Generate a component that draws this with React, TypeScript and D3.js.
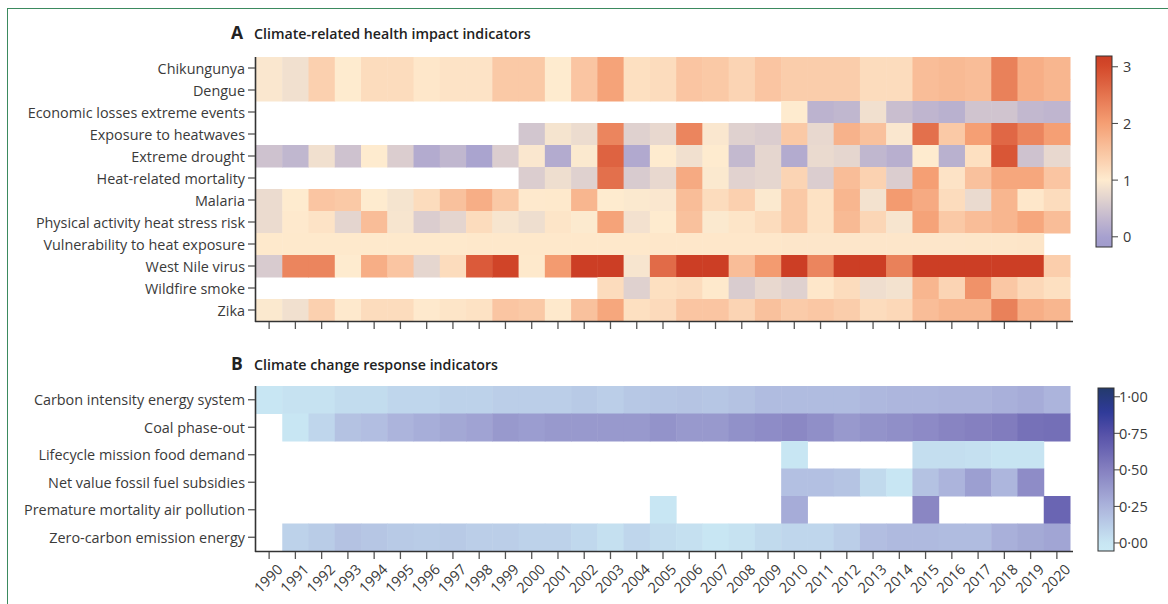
import * as d3 from "d3";

const years = d3.range(1990, 2021).map(String);

const impactRows = [
  "Chikungunya",
  "Dengue",
  "Economic losses extreme events",
  "Exposure to heatwaves",
  "Extreme drought",
  "Heat-related mortality",
  "Malaria",
  "Physical activity heat stress risk",
  "Vulnerability to heat exposure",
  "West Nile virus",
  "Wildfire smoke",
  "Zika",
];

const N = null;

// one array per indicator, 1990..2020
const chikungunya = [0.95, 0.85, 1.35, 1.0, 1.2, 1.2, 1.05, 1.1, 1.1, 1.45, 1.45, 1.0, 1.5, 1.95, 1.15, 1.2, 1.5, 1.45, 1.3, 1.5, 1.4, 1.4, 1.4, 1.2, 1.2, 1.6, 1.65, 1.6, 2.35, 1.8, 1.7];
const dengue = [0.95, 0.85, 1.35, 1.0, 1.2, 1.2, 1.05, 1.1, 1.1, 1.45, 1.45, 1.0, 1.5, 1.95, 1.15, 1.2, 1.5, 1.45, 1.3, 1.5, 1.4, 1.4, 1.4, 1.2, 1.2, 1.6, 1.65, 1.6, 2.35, 1.8, 1.7];
const economicLosses = [N, N, N, N, N, N, N, N, N, N, N, N, N, N, N, N, N, N, N, N, 1.0, 0.25, 0.3, 0.85, 0.4, 0.28, 0.22, 0.48, 0.48, 0.32, 0.28];
const heatwaves = [N, N, N, N, N, N, N, N, N, N, 0.5, 0.9, 0.8, 2.3, 0.65, 0.75, 2.3, 0.95, 0.65, 0.6, 1.45, 0.75, 1.75, 1.55, 0.95, 2.55, 1.45, 2.0, 2.65, 2.3, 2.0];
const drought = [0.45, 0.3, 0.85, 0.45, 1.0, 0.6, 0.15, 0.3, 0.05, 0.6, 0.95, 0.15, 0.97, 2.7, 0.12, 1.0, 0.85, 1.0, 0.33, 0.72, 0.15, 0.77, 0.72, 0.3, 0.2, 1.0, 0.22, 1.15, 2.85, 0.45, 0.75];
const heatMortality = [N, N, N, N, N, N, N, N, N, N, 0.6, 0.82, 0.65, 2.55, 0.57, 0.75, 1.85, 0.97, 0.67, 0.72, 1.3, 0.6, 1.6, 1.33, 0.6, 2.0, 1.1, 1.55, 1.9, 1.9, 1.5];
const malaria = [0.78, 1.0, 1.5, 1.45, 1.0, 0.9, 1.2, 1.55, 1.8, 1.45, 1.02, 1.03, 1.7, 1.0, 0.97, 0.95, 1.6, 1.2, 1.35, 0.97, 1.45, 1.12, 1.7, 0.88, 2.05, 1.85, 1.2, 0.77, 1.7, 1.05, 1.2];
const physicalActivity = [0.78, 1.02, 1.1, 0.7, 1.6, 0.92, 0.6, 0.7, 1.2, 0.92, 0.82, 1.08, 0.98, 1.95, 0.87, 1.0, 1.55, 0.97, 1.08, 1.2, 1.45, 1.12, 1.65, 1.28, 0.92, 1.95, 1.45, 1.6, 1.7, 1.9, 1.6];
const vulnerability = [1.03, 1.03, 1.03, 1.03, 1.03, 1.03, 1.03, 1.03, 1.04, 1.04, 1.04, 1.04, 1.04, 1.04, 1.04, 1.05, 1.05, 1.05, 1.05, 1.05, 1.06, 1.06, 1.06, 1.06, 1.06, 1.06, 1.06, 1.07, 1.07, 1.08, N];
const westNile = [0.57, 2.3, 2.3, 1.0, 1.8, 1.5, 0.72, 1.2, 2.8, 3.1, 1.03, 2.05, 3.2, 3.2, 0.92, 2.6, 3.2, 3.2, 1.6, 2.05, 3.2, 2.3, 3.2, 3.2, 2.35, 3.2, 3.2, 3.2, 3.2, 3.2, 1.38];
const wildfire = [N, N, N, N, N, N, N, N, N, N, N, N, N, 1.2, 0.65, 1.15, 1.2, 1.03, 0.58, 0.75, 0.65, 1.05, 1.2, 0.83, 0.88, 1.7, 1.3, 2.15, 1.47, 1.25, 1.15];
const zika = [0.97, 0.85, 1.35, 1.02, 1.2, 1.2, 1.02, 1.08, 1.12, 1.5, 1.45, 1.03, 1.55, 1.9, 1.15, 1.22, 1.5, 1.5, 1.3, 1.55, 1.42, 1.47, 1.4, 1.2, 1.25, 1.6, 1.7, 1.7, 2.35, 1.8, 1.7];

const impactValues = [chikungunya, dengue, economicLosses, heatwaves, drought, heatMortality, malaria, physicalActivity, vulnerability, westNile, wildfire, zika];

const responseRows = [
  "Carbon intensity energy system",
  "Coal phase-out",
  "Lifecycle mission food demand",
  "Net value fossil fuel subsidies",
  "Premature mortality air pollution",
  "Zero-carbon emission energy",
];

const carbonIntensity = [0.0, 0.02, 0.02, 0.05, 0.05, 0.08, 0.08, 0.1, 0.1, 0.12, 0.12, 0.12, 0.14, 0.12, 0.15, 0.16, 0.17, 0.16, 0.18, 0.21, 0.21, 0.21, 0.21, 0.23, 0.24, 0.24, 0.25, 0.25, 0.27, 0.29, 0.25];
const coalPhaseOut = [N, 0.0, 0.08, 0.18, 0.2, 0.25, 0.28, 0.31, 0.33, 0.38, 0.36, 0.38, 0.38, 0.38, 0.38, 0.41, 0.38, 0.38, 0.42, 0.44, 0.46, 0.43, 0.38, 0.41, 0.43, 0.45, 0.48, 0.5, 0.52, 0.58, 0.59];
const lifecycleFood = [N, N, N, N, N, N, N, N, N, N, N, N, N, N, N, N, N, N, N, N, 0.0, N, N, N, N, 0.04, 0.04, 0.03, 0.01, 0.01, N];
const fossilSubsidies = [N, N, N, N, N, N, N, N, N, N, N, N, N, N, N, N, N, N, N, N, 0.19, 0.19, 0.17, 0.06, 0.0, 0.18, 0.25, 0.35, 0.24, 0.44, N];
const airPollution = [N, N, N, N, N, N, N, N, N, N, N, N, N, N, N, 0.0, N, N, N, N, 0.29, N, N, N, N, 0.47, N, N, N, N, 0.64];
const zeroCarbon = [N, 0.1, 0.13, 0.18, 0.16, 0.14, 0.13, 0.14, 0.12, 0.12, 0.1, 0.1, 0.07, 0.03, 0.08, 0.05, 0.03, 0.0, 0.02, 0.06, 0.08, 0.08, 0.12, 0.2, 0.22, 0.22, 0.21, 0.21, 0.27, 0.3, 0.32];

const responseValues = [carbonIntensity, coalPhaseOut, lifecycleFood, fossilSubsidies, airPollution, zeroCarbon];

const impactTicks = [0, 1, 2, 3];
const responseTicks = [0, 0.25, 0.5, 0.75, 1];

const W = 1168;
const H = 604;
const ink = "#3a3a3a";
const font = "'Open Sans', 'DejaVu Sans', sans-serif";

const impactColor = d3
  .scaleLinear<string>()
  .domain([-0.2, 0, 1, 2, 3, 3.2])
  .range(["#9f9acc", "#a6a0cf", "#feebcf", "#f59f74", "#d4492b", "#cc3e25"])
  .clamp(true);

const responseColor = d3
  .scaleLinear<string>()
  .domain([-0.06, 0, 0.25, 0.5, 0.75, 0.9, 1.06])
  .range(["#cbeaf5", "#c8e6f3", "#acb4dc", "#8580c0", "#5550a8", "#2e3a98", "#233a6c"])
  .clamp(true);

type PanelProps = {
  letter: string;
  title: string;
  titleY: number;
  rows: string[];
  values: (number | null)[][];
  top: number;
  bottom: number;
  color: d3.ScaleLinear<string, string>;
  showYears: boolean;
};

const x = d3.scaleBand<string>().domain(years).range([256, 1070]);

function Panel({ letter, title, titleY, rows, values, top, bottom, color, showYears }: PanelProps) {
  const y = d3.scaleBand<string>().domain(rows).range([top, bottom]);
  return (
    <g>
      <text x={231} y={titleY} fontFamily={font} fontWeight={700} fontSize={17.5} fill="#222">
        {letter}
      </text>
      <text x={254} y={titleY} fontFamily={font} fontWeight={600} fontSize={14.2} fill="#222">
        {title}
      </text>
      {values.map((vals, i) =>
        vals.map((v, j) =>
          v === null ? null : (
            <rect
              key={`${i}-${j}`}
              x={x(years[j])}
              y={y(rows[i])}
              width={x.bandwidth() + 0.5}
              height={y.bandwidth() + 0.5}
              fill={color(v)}
            />
          ),
        ),
      )}
      {/* y axis */}
      <line x1={255.5} x2={255.5} y1={top} y2={bottom + 1} stroke="#333" strokeWidth={1.6} />
      {rows.map((r) => {
        const cy = (y(r) ?? 0) + y.bandwidth() / 2;
        return (
          <g key={r}>
            <line x1={248} x2={255} y1={cy} y2={cy} stroke="#555" strokeWidth={1.3} />
            <text
              x={245}
              y={cy}
              textAnchor="end"
              dominantBaseline="central"
              fontFamily={font}
              fontSize={14.4}
              fill={ink}
            >
              {r}
            </text>
          </g>
        );
      })}
      {/* x axis */}
      <line x1={255} x2={1073} y1={bottom + 0.5} y2={bottom + 0.5} stroke="#333" strokeWidth={1.6} />
      {years.map((yr) => {
        const cx = (x(yr) ?? 0) + x.bandwidth() / 2;
        return (
          <g key={yr}>
            <line x1={cx} x2={cx} y1={bottom + 1} y2={bottom + 8} stroke="#555" strokeWidth={1.3} />
            {showYears && (
              <text
                transform={`translate(${cx + 6},${bottom + 11}) rotate(-45)`}
                textAnchor="end"
                dominantBaseline="hanging"
                fontFamily={font}
                fontSize={14.5}
                fill={ink}
              >
                {yr}
              </text>
            )}
          </g>
        );
      })}
    </g>
  );
}

type LegendProps = {
  id: string;
  x0: number;
  top: number;
  bottom: number;
  domain: [number, number];
  ticks: number[];
  color: d3.ScaleLinear<string, string>;
  format: (v: number) => string;
  labelGap: number;
};

function Legend({ id, x0, top, bottom, domain, ticks, color, format, labelGap }: LegendProps) {
  const s = d3.scaleLinear().domain(domain).range([bottom, top]);
  const stops = d3.range(0, 1.0001, 0.05).map((t) => domain[0] + t * (domain[1] - domain[0]));
  return (
    <g>
      <defs>
        <linearGradient id={id} x1="0" y1="1" x2="0" y2="0">
          {stops.map((v, i) => (
            <stop key={i} offset={`${(i / (stops.length - 1)) * 100}%`} stopColor={color(v)} />
          ))}
        </linearGradient>
      </defs>
      <rect x={x0} y={top} width={16} height={bottom - top} fill={`url(#${id})`} stroke="#333" strokeWidth={1} />
      {ticks.map((t) => (
        <g key={t}>
          <line x1={x0 + 16} x2={x0 + 22} y1={s(t)} y2={s(t)} stroke="#444" strokeWidth={1} />
          <text
            x={x0 + 22 + labelGap}
            y={s(t)}
            dominantBaseline="central"
            fontFamily={font}
            fontSize={14.5}
            fill={ink}
          >
            {format(t)}
          </text>
        </g>
      ))}
    </g>
  );
}

export default function App() {
  return (
    <div style={{ position: "absolute", left: 0, top: 0 }}>
      <svg width={W} height={H} style={{ display: "block", background: "#fff" }}>
        <rect x={7.5} y={8.5} width={W + 20} height={H + 20} fill="none" stroke="#3b8a5e" strokeWidth={1} />
        <Panel
          letter="A"
          title="Climate-related health impact indicators"
          titleY={39}
          rows={impactRows}
          values={impactValues}
          top={57}
          bottom={321}
          color={impactColor}
          showYears={false}
        />
        <Panel
          letter="B"
          title="Climate change response indicators"
          titleY={370}
          rows={responseRows}
          values={responseValues}
          top={386}
          bottom={551}
          color={responseColor}
          showYears={true}
        />
        <Legend
          id="gA"
          x0={1096}
          top={56}
          bottom={247}
          domain={[-0.18, 3.19]}
          ticks={impactTicks}
          color={impactColor}
          format={(v) => String(v)}
          labelGap={5}
        />
        <Legend
          id="gB"
          x0={1098}
          top={388}
          bottom={551}
          domain={[-0.055, 1.06]}
          ticks={responseTicks}
          color={responseColor}
          format={(v) => v.toFixed(2).replace(".", "\u00b7")}
          labelGap={-1}
        />
      </svg>
    </div>
  );
}
